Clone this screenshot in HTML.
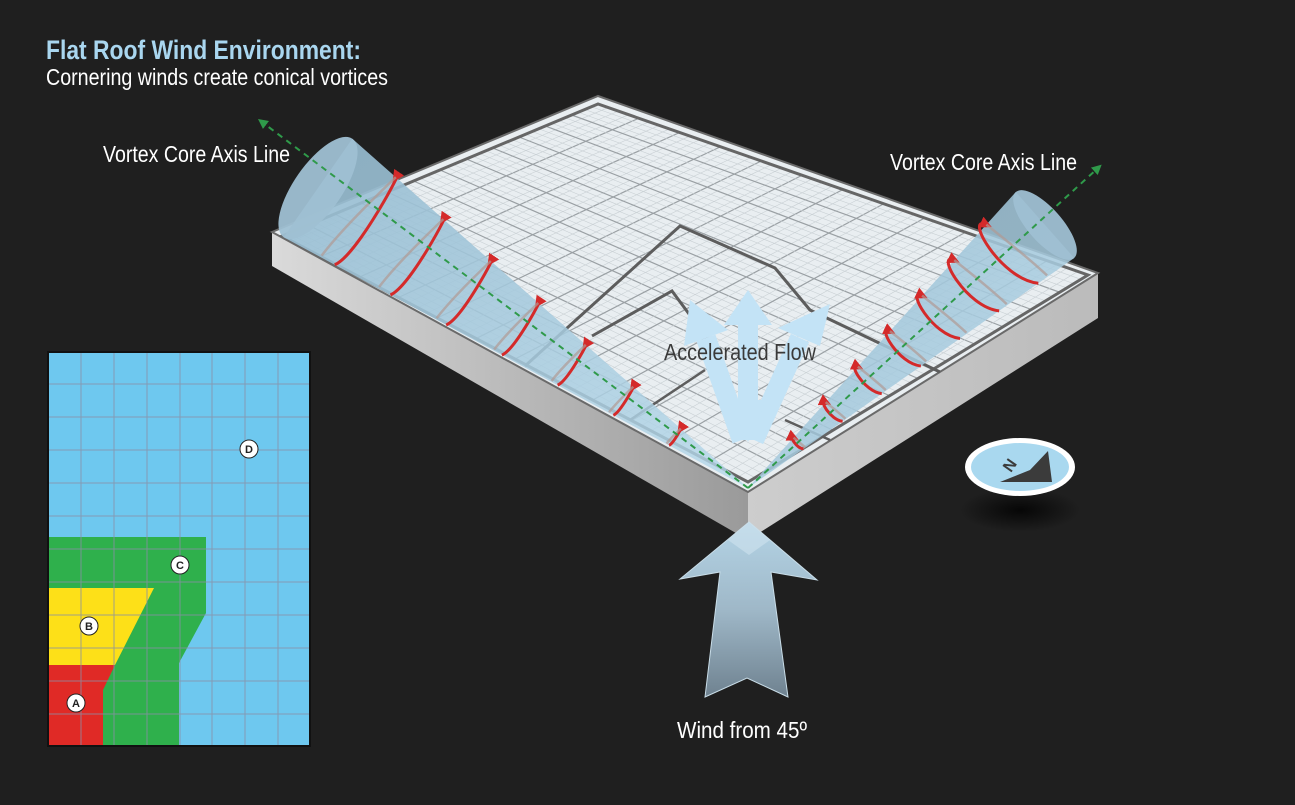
<!DOCTYPE html>
<html><head><meta charset="utf-8"><style>
html,body{margin:0;padding:0;background:#1e1e1e;}
svg{display:block}
text{font-family:"Liberation Sans Narrow","Liberation Sans",sans-serif;}
</style></head><body>
<svg id="s" width="1295" height="805" viewBox="0 0 1295 805" xmlns="http://www.w3.org/2000/svg">
<defs>
<linearGradient id="lf" x1="0" y1="0" x2="1" y2="0"><stop offset="0" stop-color="#dadada"/><stop offset="1" stop-color="#9a9a9a"/></linearGradient>
<linearGradient id="rf" x1="0" y1="0" x2="1" y2="0"><stop offset="0" stop-color="#cdcdcd"/><stop offset="1" stop-color="#bbbbbb"/></linearGradient>
<linearGradient id="wa" x1="0" y1="0" x2="0" y2="1"><stop offset="0" stop-color="#b4d4e6"/><stop offset="0.5" stop-color="#9fb8c8"/><stop offset="1" stop-color="#6f8290"/></linearGradient>
<linearGradient id="cl" x1="0" y1="0" x2="1" y2="1"><stop offset="0" stop-color="#95bbd0" stop-opacity="0.92"/><stop offset="1" stop-color="#b5d8ea" stop-opacity="0.8"/></linearGradient>
<radialGradient id="sh"><stop offset="0" stop-color="#000" stop-opacity="0.8"/><stop offset="1" stop-color="#000" stop-opacity="0"/></radialGradient>
<marker id="ah" viewBox="0 0 10 10" refX="5" refY="5" markerWidth="4" markerHeight="4" orient="auto"><path d="M0,0 L10,5 L0,10 z" fill="#d42a2a"/></marker>
<marker id="ag" viewBox="0 0 10 10" refX="5" refY="5" markerWidth="5" markerHeight="5" orient="auto"><path d="M0,0 L10,5 L0,10 z" fill="#2f9a4a"/></marker>
</defs>
<rect width="1295" height="805" fill="#1f1f1f"/>
<polygon points="272,232 748,492 748,540 272,266" fill="url(#lf)"/>
<polygon points="748,492 1098,273 1098,318 748,540" fill="url(#rf)"/>
<polygon points="272,232 598,96 1098,273 748,492" fill="#e9eef1" stroke="#6a6a6a" stroke-width="2"/>
<g id="grid"></g>
<polygon points="282,236 598,104 1088,275 748,482" fill="none" stroke="#666" stroke-width="3"/>
<polyline points="525,366 680,226 775,268 810,310 940,372" fill="none" stroke="#5d5d5d" stroke-width="3"/>
<polyline points="592,336 672,291 692,318" fill="none" stroke="#5d5d5d" stroke-width="3"/>
<polyline points="630,420 705,370" fill="none" stroke="#5d5d5d" stroke-width="2.5"/>
<polyline points="785,420 830,440" fill="none" stroke="#5d5d5d" stroke-width="2.5"/>
<g id="cones"></g>
<g fill="#c3e3f6" stroke="#c3e3f6">
<line x1="742" y1="440" x2="706" y2="338" stroke-width="20"/>
<line x1="748" y1="440" x2="748" y2="322" stroke-width="20"/>
<line x1="754" y1="440" x2="800" y2="338" stroke-width="20"/>
<polygon points="690,300 728,330 684,346" stroke="none"/>
<polygon points="748,290 772,325 724,325" stroke="none"/>
<polygon points="830,304 820,346 778,328" stroke="none"/>
<polygon points="730,400 766,400 748,442" stroke="none"/>
</g>
<text x="664" y="360" font-size="23" fill="#3a3a3a" textLength="152" lengthAdjust="spacingAndGlyphs">Accelerated Flow</text>
<polygon points="749,522 817,580 771,572 788,697 747,678 705,697 720,572 680,579" fill="url(#wa)" stroke="#c9dde8" stroke-width="1"/>
<polygon points="749,522 770,540 749,555 728,540" fill="#cfe3ee" opacity="0.6"/>
<ellipse cx="1020" cy="510" rx="60" ry="22" fill="url(#sh)"/>
<ellipse cx="1020" cy="467" rx="55" ry="29" fill="#fff"/>
<ellipse cx="1020" cy="467" rx="49" ry="24" fill="#a9d8ef"/>
<polygon points="1048,451 1052,482 1000,482 1030,470" fill="#3b3b3b"/>
<text x="1003" y="470" font-size="16" font-weight="bold" fill="#3b3b3b" transform="rotate(-55 1010 464)">N</text>
<rect x="47" y="351" width="264" height="396" fill="#111"/>
<rect x="49" y="353" width="260" height="392" fill="#6ec8ef"/>
<polygon points="49,537 206,537 206,613 179,663 179,745 49,745" fill="#2fb04c"/>
<polygon points="49,588 154,588 115,665 49,665" fill="#fde018"/>
<polygon points="49,665 115,665 103,690 103,745 49,745" fill="#e02a26"/>
<g stroke="#8a8fa6" stroke-width="1" opacity="0.8">
<line x1="81" y1="353" x2="81" y2="745"/><line x1="114" y1="353" x2="114" y2="745"/><line x1="147" y1="353" x2="147" y2="745"/><line x1="180" y1="353" x2="180" y2="745"/><line x1="212" y1="353" x2="212" y2="745"/><line x1="245" y1="353" x2="245" y2="745"/><line x1="278" y1="353" x2="278" y2="745"/>
<line x1="49" y1="384" x2="309" y2="384"/><line x1="49" y1="417" x2="309" y2="417"/><line x1="49" y1="450" x2="309" y2="450"/><line x1="49" y1="483" x2="309" y2="483"/><line x1="49" y1="516" x2="309" y2="516"/><line x1="49" y1="549" x2="309" y2="549"/><line x1="49" y1="582" x2="309" y2="582"/><line x1="49" y1="615" x2="309" y2="615"/><line x1="49" y1="648" x2="309" y2="648"/><line x1="49" y1="681" x2="309" y2="681"/><line x1="49" y1="714" x2="309" y2="714"/>
</g>
<g font-size="11" font-weight="bold" text-anchor="middle" fill="#222">
<circle cx="249" cy="449" r="9" fill="#fff" stroke="#222"/><text x="249" y="453">D</text>
<circle cx="180" cy="565" r="9" fill="#fff" stroke="#222"/><text x="180" y="569">C</text>
<circle cx="89" cy="626" r="9" fill="#fff" stroke="#222"/><text x="89" y="630">B</text>
<circle cx="76" cy="703" r="9" fill="#fff" stroke="#222"/><text x="76" y="707">A</text>
</g>
<text x="46" y="59" font-size="27" font-weight="bold" fill="#a9d6ef" textLength="315" lengthAdjust="spacingAndGlyphs">Flat Roof Wind Environment:</text>
<text x="46" y="85" font-size="23" fill="#fff" textLength="342" lengthAdjust="spacingAndGlyphs">Cornering winds create conical vortices</text>
<text x="103" y="162" font-size="23" fill="#fff" textLength="187" lengthAdjust="spacingAndGlyphs">Vortex Core Axis Line</text>
<text x="890" y="170" font-size="23" fill="#fff" textLength="187" lengthAdjust="spacingAndGlyphs">Vortex Core Axis Line</text>
<text x="677" y="738" font-size="23" fill="#fff" textLength="130" lengthAdjust="spacingAndGlyphs">Wind from 45º</text>
</svg>
<script>
(function(){
var NS="http://www.w3.org/2000/svg";
var L=[282,236],T=[598,104],B=[748,482],R=[1088,275];
function P(s,t){return [(1-s)*(1-t)*L[0]+s*(1-t)*T[0]+(1-s)*t*B[0]+s*t*R[0],(1-s)*(1-t)*L[1]+s*(1-t)*T[1]+(1-s)*t*B[1]+s*t*R[1]];}
var g=document.getElementById("grid");
function ln(a,b,c,w){var e=document.createElementNS(NS,"line");e.setAttribute("x1",a[0]);e.setAttribute("y1",a[1]);e.setAttribute("x2",b[0]);e.setAttribute("y2",b[1]);e.setAttribute("stroke",c);e.setAttribute("stroke-width",w);g.appendChild(e);}
var N=48;
for(var i=1;i<N;i++){var f=i/N;var maj=(i%4==0);var c=maj?"#9aa0a4":"#c9d0d4";var w=maj?1.2:0.6;
ln(P(f,0),P(f,1),c,w);ln(P(0,f),P(1,f),c,w);}
var cg=document.getElementById("cones");
function add(tag,at){var e=document.createElementNS(NS,tag);for(var k in at)e.setAttribute(k,at[k]);cg.appendChild(e);return e;}
function cone(A,C,r,rx,col){
 var dx=C[0]-A[0],dy=C[1]-A[1],l=Math.hypot(dx,dy),u=[dx/l,dy/l],p=[-u[1],u[0]];
 var e1=[C[0]+r*p[0],C[1]+r*p[1]],e2=[C[0]-r*p[0],C[1]-r*p[1]];
 add("polygon",{points:A.join(",")+" "+e1.join(",")+" "+e2.join(","),fill:"url(#cl)"});
 var ang=Math.atan2(dy,dx)*180/Math.PI;
 add("ellipse",{cx:C[0],cy:C[1],rx:rx,ry:r,fill:"#9fc0d3",opacity:0.95,transform:"rotate("+ang+" "+C[0]+" "+C[1]+")"});
 for(var k=1;k<=7;k++){var t=0.12*k+0.05;if(t>0.95)break;var Q=[A[0]+dx*t,A[1]+dy*t],rr=r*t;
  var s1=[Q[0]+rr*p[0]*col,Q[1]+rr*p[1]*col],s2=[Q[0]-rr*p[0]*col,Q[1]-rr*p[1]*col];
  var c1=[s1[0]-rr*0.9*u[0]-rr*0.3,s1[1]-rr*0.9*u[1]-rr*0.7];
  var c2=[s2[0]-rr*0.5*u[0]-rr*0.2,s2[1]-rr*0.5*u[1]-rr*0.6];
  add("path",{d:"M"+s1+" C"+c1+" "+c2+" "+s2,fill:"none",stroke:"#d42a2a","stroke-width":3,"marker-end":"url(#ah)"});
  add("path",{d:"M"+s2+" Q"+[Q[0]+rr*0.5*u[0],Q[1]+rr*0.5*u[1]+rr*0.4]+" "+[s1[0]+rr*0.3*u[0],s1[1]+rr*0.3*u[1]],fill:"none",stroke:"#b09a94","stroke-width":2.5,opacity:0.7});
 }
}
cone([748,488],[318,188],60,24,-1);
cone([748,488],[1045,225],44,17,1);
add("line",{x1:748,y1:488,x2:262,y2:122,stroke:"#2f9a4a","stroke-width":2,"stroke-dasharray":"6,5","marker-end":"url(#ag)"});
add("line",{x1:748,y1:488,x2:1098,y2:168,stroke:"#2f9a4a","stroke-width":2,"stroke-dasharray":"6,5","marker-end":"url(#ag)"});
})();
</script>
</body></html>
